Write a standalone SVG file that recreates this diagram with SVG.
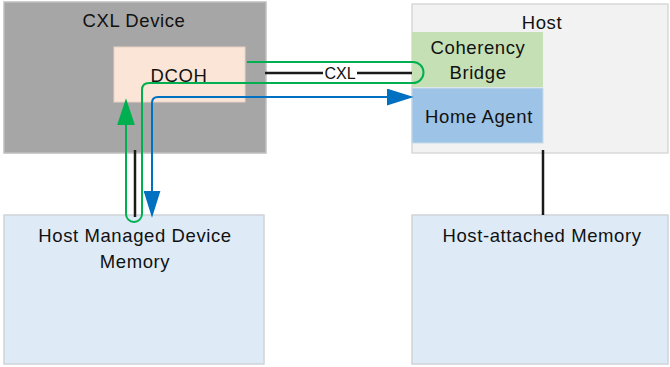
<svg xmlns="http://www.w3.org/2000/svg" width="670" height="367" viewBox="0 0 670 367">
<defs>
<style>
text{font-family:"Liberation Sans",Arial,sans-serif;fill:#111111;text-anchor:middle}
.big{font-size:18.5px;letter-spacing:0.6px}
.lbl{font-size:16px}
.blk{stroke:#1a1a1a;stroke-width:2.5;fill:none}
.grn{stroke:#00B050;stroke-width:2;fill:none}
.blu{stroke:#0070C0;stroke-width:2;fill:none}
</style>
<marker id="ag" viewBox="0 0 10 10" refX="9" refY="5" markerWidth="27" markerHeight="18" markerUnits="userSpaceOnUse" orient="auto" preserveAspectRatio="none"><path d="M0,0 L10,5 L0,10 z" fill="#00B050"/></marker>
<marker id="ab" viewBox="0 0 10 10" refX="9" refY="5" markerWidth="27" markerHeight="17" markerUnits="userSpaceOnUse" orient="auto-start-reverse" preserveAspectRatio="none"><path d="M0,0 L10,5 L0,10 z" fill="#0070C0"/></marker>
</defs>
<rect width="670" height="367" fill="#ffffff"/>
<g id="cxl-device">
<rect x="4" y="2" width="262" height="151" fill="#A6A6A6" stroke="#BFBFBF" stroke-width="1.5"/>
<text class="big" x="134" y="27">CXL Device</text>
</g>
<g id="dcoh">
<rect x="114" y="47" width="131" height="55" fill="#FBE5D6" stroke="#E8D2C4" stroke-width="1"/>
<text class="big" x="179" y="82">DCOH</text>
</g>
<g id="host">
<rect x="412" y="4" width="256" height="149" fill="#F2F2F2" stroke="#D9D9D9" stroke-width="1.5"/>
<text class="big" x="542" y="29">Host</text>
</g>
<g id="coherency-bridge">
<rect x="412" y="32" width="131" height="55" fill="#C5E0B4"/>
<text class="big" x="478" y="54">Coherency</text>
<text class="big" x="478" y="79">Bridge</text>
</g>
<g id="home-agent">
<rect x="412" y="88" width="131" height="55" fill="#9DC3E6" stroke="#C9D9E8" stroke-width="1"/>
<text class="big" x="479" y="123">Home Agent</text>
</g>
<g id="host-managed-device-memory">
<rect x="4" y="215" width="260" height="149" fill="#DEEBF7" stroke="#D0D4D8" stroke-width="1.5"/>
<text class="big" x="135" y="242">Host Managed Device</text>
<text class="big" x="135" y="268">Memory</text>
</g>
<g id="host-attached-memory">
<rect x="412" y="215" width="256" height="149" fill="#DEEBF7" stroke="#D0D4D8" stroke-width="1.5"/>
<text class="big" x="542" y="242">Host-attached Memory</text>
</g>
<g id="connectors">
<line class="blk" x1="543" y1="150" x2="543" y2="215"/>
<line class="blk" x1="135" y1="150" x2="135" y2="217"/>
<line class="blk" x1="265" y1="73" x2="323" y2="73"/>
<line class="blk" x1="357" y1="73" x2="412" y2="73"/>
<text class="lbl" x="340" y="79">CXL</text>
<path class="grn" d="M247,62 H413 A10.5,10.5 0 0 1 413,83 H149 Q142,83 142,90 V214 A8,8 0 0 1 126,214 V101" marker-end="url(#ag)"/>
<path class="blu" d="M152,215 V103 Q152,97 158,97 H411" marker-start="url(#ab)" marker-end="url(#ab)"/>
</g>
</svg>
